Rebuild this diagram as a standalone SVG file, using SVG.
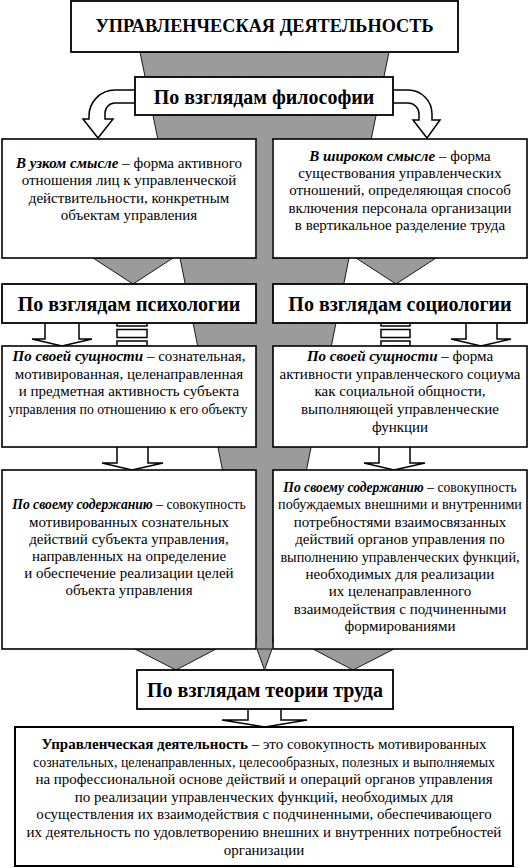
<svg xmlns="http://www.w3.org/2000/svg" width="530" height="868" viewBox="0 0 530 868">
<style>
.box{fill:#fff;stroke:#000;stroke-width:1.6}
.hdr{fill:#fff;stroke:#000;stroke-width:1.8}
.gray{fill:#9b9b9b;stroke:#1a1a1a;stroke-width:1}
.gfill{fill:#9b9b9b;stroke:none}
.arr{fill:#fff;stroke:#000;stroke-width:1.5;stroke-linejoin:miter}
.t{font-family:"Liberation Serif","Times New Roman",serif;font-size:15px;fill:#000;text-anchor:middle}
.h{font-family:"Liberation Serif","Times New Roman",serif;font-size:20px;font-weight:bold;fill:#000;text-anchor:middle}
.title{font-family:"Liberation Serif","Times New Roman",serif;font-size:18.3px;font-weight:bold;fill:#000;text-anchor:middle}
.bi{font-weight:bold;font-style:italic}
.b{font-weight:bold}
</style>
<rect width="530" height="868" fill="#fff"/>
<g id="connectors">
  <polygon class="gray" points="140,52 389,52 371,140 158,140"/>
  <polygon class="gray" points="180,258 349,258 270.6,649 258.4,649"/>
  <rect class="gfill" x="257" y="100" width="15" height="549"/>
  <polygon class="gray" points="257,649 272,649 264.5,670"/>
  <polygon class="gray" points="93,258 173,258 133,284"/>
  <polygon class="gray" points="356,258 436,258 396,284"/>
  <polygon class="gray" points="135,649 216,649 176,670"/>
  <polygon class="gray" points="313,649 394,649 353,670"/>
  <path class="arr" d="M135,90 L115,90 A26,26 0 0 0 89,116 L89,119 L83,119 L98,138 L113,119 L105,119 L105,113 A10,10 0 0 1 115,103 L135,103 Z"/>
  <path class="arr" d="M393,90 L408,90 A24,24 0 0 1 432,114 L432,120 L440,120 L427,138 L413,120 L419,120 L419,114 A11,11 0 0 0 408,103 L393,103 Z"/>
  <path class="arr" d="M45,323 L45,339 L32,339 L62,346 L92,339 L79,339 L79,323"/>
  <path class="arr" d="M466,323 L466,339 L451,339 L481,346 L511,339 L497,339 L497,323"/>
  <rect class="arr" x="117" y="323" width="30" height="3"/>
  <rect class="arr" x="117" y="329.5" width="30" height="8"/>
  <rect class="arr" x="117" y="341" width="30" height="5"/>
  <rect class="arr" x="381" y="323" width="29" height="3"/>
  <rect class="arr" x="381" y="329.5" width="29" height="8"/>
  <rect class="arr" x="381" y="341" width="29" height="5"/>
  <path class="arr" d="M117,447 L117,463 L102,463 L132,470 L163,463 L148,463 L148,447"/>
  <path class="arr" d="M379,447 L379,463 L364,463 L394,470 L425,463 L410,463 L410,447"/>
  <path class="arr" d="M248,709 L248,720 L222,720 L265,727 L307,720 L281,720 L281,709"/>
</g>
<g id="title">
  <rect class="hdr" x="71" y="1" width="387" height="51"/>
  <text class="title" x="264.5" y="32">УПРАВЛЕНЧЕСКАЯ ДЕЯТЕЛЬНОСТЬ</text>
</g>
<g id="philosophy">
  <rect class="hdr" x="135" y="77" width="258" height="38"/>
  <text class="h" x="264" y="103.5">По взглядам философии</text>
</g>
<g id="narrow">
  <rect class="box" x="2" y="139" width="254" height="119"/>
  <text class="t" y="168"><tspan x="129" class="bi">В узком смысле</tspan> – форма активного</text>
  <text class="t" x="129" y="185.3">отношения лиц к управленческой</text>
  <text class="t" x="129" y="202.5">действительности, конкретным</text>
  <text class="t" x="129" y="219.7">объектам управления</text>
</g>
<g id="broad">
  <rect class="box" x="273" y="139" width="254" height="119"/>
  <text class="t" y="161"><tspan x="400" class="bi">В широком смысле</tspan> – форма</text>
  <text class="t" x="400" y="178.2">существования управленческих</text>
  <text class="t" x="400" y="195.4">отношений, определяющая способ</text>
  <text class="t" x="400" y="212.6">включения персонала организации</text>
  <text class="t" x="400" y="229.8">в вертикальное разделение труда</text>
</g>
<g id="psychology">
  <rect class="hdr" x="2" y="284" width="254" height="39"/>
  <text class="h" x="129" y="310.5">По взглядам психологии</text>
</g>
<g id="sociology">
  <rect class="hdr" x="273" y="284" width="254" height="39"/>
  <text class="h" x="400" y="310.5">По взглядам социологии</text>
</g>
<g id="essence-psy">
  <rect class="box" x="2" y="346" width="254" height="101"/>
  <text class="t" x="129" y="361"><tspan class="bi">По своей сущности</tspan> – сознательная,</text>
  <text class="t" x="129" y="378.7">мотивированная, целенаправленная</text>
  <text class="t" x="129" y="396.4">и предметная активность субъекта</text>
  <text class="t" transform="translate(128,414) scale(0.92,1)">управления по отношению к его объекту</text>
</g>
<g id="essence-soc">
  <rect class="box" x="273" y="346" width="254" height="101"/>
  <text class="t" x="400" y="361"><tspan class="bi">По своей сущности</tspan> – форма</text>
  <text class="t" x="400" y="378.7">активности управленческого социума</text>
  <text class="t" x="400" y="396.4">как социальной общности,</text>
  <text class="t" x="400" y="414">выполняющей управленческие</text>
  <text class="t" x="400" y="431.7">функции</text>
</g>
<g id="content-psy">
  <rect class="box" x="2" y="470" width="254" height="179"/>
  <text class="t" transform="translate(129,509) scale(0.91,1)"><tspan class="bi">По своему содержанию</tspan> – совокупность</text>
  <text class="t" x="129" y="526.6">мотивированных сознательных</text>
  <text class="t" x="129" y="543.8">действий субъекта управления,</text>
  <text class="t" x="129" y="561">направленных на определение</text>
  <text class="t" x="129" y="578.2">и обеспечение реализации целей</text>
  <text class="t" x="129" y="595.4">объекта управления</text>
</g>
<g id="content-soc">
  <rect class="box" x="273" y="470" width="254" height="179"/>
  <text class="t" transform="translate(400,492) scale(0.91,1)"><tspan class="bi">По своему содержанию</tspan> – совокупность</text>
  <text class="t" transform="translate(400,509.4) scale(0.94,1)">побуждаемых внешними и внутренними</text>
  <text class="t" x="400" y="526.8">потребностями взаимосвязанных</text>
  <text class="t" x="400" y="544.2">действий органов управления по</text>
  <text class="t" transform="translate(400,561.6) scale(0.95,1)">выполнению управленческих функций,</text>
  <text class="t" x="400" y="579">необходимых для реализации</text>
  <text class="t" x="400" y="596.4">их целенаправленного</text>
  <text class="t" x="400" y="613.8">взаимодействия с подчиненными</text>
  <text class="t" x="400" y="631.2">формированиями</text>
</g>
<g id="labour">
  <rect class="hdr" x="137" y="670" width="256" height="39"/>
  <text class="h" x="265" y="697">По взглядам теории труда</text>
</g>
<g id="definition">
  <rect class="box" x="15" y="727" width="498" height="139" style="stroke-width:2"/>
  <text class="t" x="264" y="749"><tspan class="b">Управленческая деятельность</tspan> – это совокупность мотивированных</text>
  <text class="t" transform="translate(264,766.6) scale(0.925,1)">сознательных, целенаправленных, целесообразных, полезных и выполняемых</text>
  <text class="t" x="264" y="784.2">на профессиональной основе действий и операций органов управления</text>
  <text class="t" x="264" y="801.8">по реализации управленческих функций, необходимых для</text>
  <text class="t" x="264" y="819.4">осуществления их взаимодействия с подчиненными, обеспечивающего</text>
  <text class="t" x="264" y="837">их деятельность по удовлетворению внешних и внутренних потребностей</text>
  <text class="t" x="264" y="854.6">организации</text>
</g>
</svg>
